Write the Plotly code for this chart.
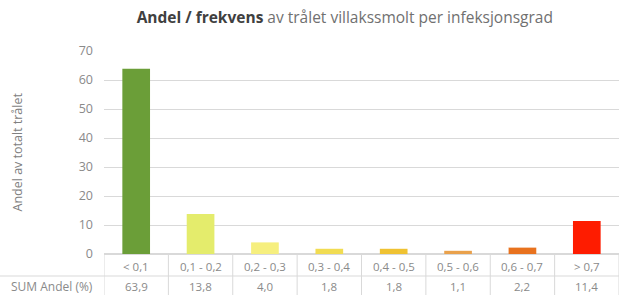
import plotly.graph_objects as go

categories = ["< 0,1", "0,1 - 0,2", "0,2 - 0,3", "0,3 - 0,4", "0,4 - 0,5", "0,5 - 0,6", "0,6 - 0,7", "> 0,7"]
values = [63.9, 13.8, 4.0, 1.8, 1.8, 1.1, 2.2, 11.4]
value_labels = ["63,9", "13,8", "4,0", "1,8", "1,8", "1,1", "2,2", "11,4"]
colors = ["#6b9e38", "#e4ec6c", "#f6ef7e", "#f1dc52", "#efc232", "#e9a14c", "#e8721e", "#fe1c00"]
y_ticks = [0, 10, 20, 30, 40, 50, 60, 70]

FONT = "Open Sans"
GRAY = "#8a8a8a"
LINE = "#d9d9d9"

fig = go.Figure()
fig.add_trace(go.Bar(
    x=categories, y=values,
    marker=dict(color=colors, line=dict(width=0)),
    width=0.43,
))

annotations = []
shapes = []
for i, (c, v) in enumerate(zip(categories, value_labels)):
    annotations.append(dict(x=c, y=0, xref="x", yref="paper", yshift=-12, text=c,
                            xanchor="center", yanchor="middle",
                            showarrow=False, font=dict(family=FONT, size=11.5, color=GRAY)))
    annotations.append(dict(x=c, y=0, xref="x", yref="paper", yshift=-32, text=v,
                            xanchor="center", yanchor="middle",
                            showarrow=False, font=dict(family=FONT, size=11.5, color=GRAY)))
annotations.append(dict(x=0, y=0, xref="paper", yref="paper", xshift=-52, yshift=-32,
                        xanchor="center", yanchor="middle",
                        text="SUM Andel (%)", showarrow=False,
                        font=dict(family=FONT, size=12, color=GRAY)))
annotations.append(dict(x=0, y=0.5, xref="paper", yref="paper", xshift=-87,
                        xanchor="center", yanchor="middle",
                        text="Andel av totalt trålet", textangle=-90, showarrow=False,
                        font=dict(family=FONT, size=12.5, color="#808080")))

for k in range(9):
    shapes.append(dict(type="line", xref="x", yref="paper", x0=k - 0.5, x1=k - 0.5,
                       yanchor=0, ysizemode="pixel", y0=-1, y1=-42,
                       line=dict(color=LINE, width=1)))
shapes.append(dict(type="line", xref="paper", yref="paper", x0=-0.21, x1=1,
                   yanchor=0, ysizemode="pixel", y0=-22, y1=-22,
                   line=dict(color=LINE, width=1)))

fig.update_layout(
    width=619, height=295,
    margin=dict(l=104, r=0, t=51, b=41, autoexpand=False),
    paper_bgcolor="white", plot_bgcolor="white",
    showlegend=False,
    title=dict(
        text="<span style='color:#404040'><b>Andel / frekvens</b></span> av trålet villakssmolt per infeksjonsgrad",
        x=0.557, xanchor="center", y=0.94, yanchor="middle",
        font=dict(family=FONT, size=15.5, color="#707070"),
    ),
    xaxis=dict(showticklabels=False, showgrid=False, zeroline=False, automargin=False,
               range=[-0.5, 7.5], fixedrange=True),
    yaxis=dict(range=[0, 70], tickvals=y_ticks, showgrid=True, gridcolor=LINE,
               gridwidth=1, zeroline=True, zerolinecolor=LINE, ticks="", automargin=False,
               tickfont=dict(family=FONT, size=12.5, color=GRAY), ticklabelstandoff=10),
    annotations=annotations,
    shapes=shapes,
)

fig.write_html("out.html", config={"displayModeBar": False},
               post_script="document.body.style.margin='0';document.body.style.overflow='hidden';")
